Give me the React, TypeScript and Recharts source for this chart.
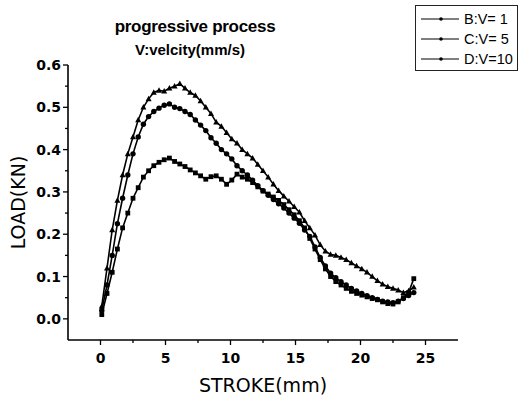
import React from 'react';
import { LineChart, Line, XAxis, YAxis, Label } from 'recharts';

// stroke positions (mm), shared by the three runs
const stroke = [
  0.1, 0.5, 0.9, 1.3, 1.7, 2.1, 2.5, 2.9, 3.3, 3.7, 4.1, 4.5, 4.9, 5.3, 5.7, 6.1,
  6.5, 6.9, 7.3, 7.7, 8.1, 8.5, 8.9, 9.3, 9.7, 10.1, 10.5, 10.9, 11.3, 11.7, 12.1,
  12.5, 12.9, 13.3, 13.7, 14.1, 14.5, 14.9, 15.3, 15.7, 16.1, 16.5, 16.9, 17.3,
  17.7, 18.1, 18.5, 18.9, 19.3, 19.7, 20.1, 20.5, 20.9, 21.3, 21.7, 22.1, 22.5,
  22.9, 23.3, 23.7, 24.1,
];

// load (kN), V = 1 mm/s
const loadB = [
  0.01, 0.06, 0.11, 0.165, 0.215, 0.25, 0.285, 0.31, 0.335, 0.35, 0.362, 0.37,
  0.376, 0.38, 0.372, 0.366, 0.36, 0.352, 0.345, 0.338, 0.33, 0.336, 0.338, 0.33,
  0.318, 0.328, 0.342, 0.335, 0.33, 0.322, 0.312, 0.302, 0.295, 0.288, 0.28, 0.27,
  0.258, 0.246, 0.232, 0.215, 0.19, 0.165, 0.14, 0.118, 0.1, 0.088, 0.08, 0.072,
  0.065, 0.06, 0.056, 0.052, 0.048, 0.045, 0.04, 0.036, 0.035, 0.04, 0.05, 0.062,
  0.095,
];

// load (kN), V = 5 mm/s
const loadC = [
  0.02, 0.08, 0.15, 0.225, 0.285, 0.34, 0.39, 0.43, 0.46, 0.478, 0.49, 0.498,
  0.505, 0.508, 0.5, 0.497, 0.49, 0.483, 0.47, 0.458, 0.445, 0.428, 0.415, 0.4,
  0.39, 0.378, 0.362, 0.35, 0.34, 0.328, 0.315, 0.303, 0.292, 0.282, 0.272, 0.262,
  0.25, 0.238, 0.226, 0.21, 0.195, 0.17, 0.145, 0.125, 0.108, 0.097, 0.088, 0.08,
  0.072, 0.066, 0.06, 0.055, 0.05, 0.046, 0.042, 0.04, 0.038, 0.042, 0.048, 0.055,
  0.062,
];

// load (kN), V = 10 mm/s
const loadD = [
  0.03, 0.12, 0.21, 0.28, 0.34, 0.39, 0.43, 0.47, 0.5, 0.52, 0.535, 0.54, 0.538,
  0.545, 0.55, 0.556, 0.545, 0.535, 0.528, 0.515, 0.5, 0.485, 0.465, 0.455, 0.44,
  0.425, 0.415, 0.4, 0.39, 0.38, 0.365, 0.35, 0.335, 0.318, 0.303, 0.29, 0.278,
  0.265, 0.252, 0.232, 0.215, 0.198, 0.175, 0.16, 0.152, 0.15, 0.145, 0.14, 0.132,
  0.125, 0.118, 0.11, 0.1, 0.09, 0.082, 0.076, 0.072, 0.068, 0.062, 0.066, 0.075,
];

const seriesNames = ['B:V= 1', 'C:V= 5', 'D:V=10'];
const xTicks = [0, 2.5, 5, 7.5, 10, 12.5, 15, 17.5, 20, 22.5, 25];
const yTicks = [0, 0.05, 0.1, 0.15, 0.2, 0.25, 0.3, 0.35, 0.4, 0.45, 0.5, 0.55, 0.6];

const data = stroke.map((s, i) => ({ s, b: loadB[i], c: loadC[i], d: loadD[i] }));

const tickFont = { fontFamily: '"DejaVu Sans", sans-serif', fontWeight: 'bold', fontSize: 14 };

const isMajor = (v: number, step: number) => Math.abs(v / step - Math.round(v / step)) < 1e-6;

const XTick = ({ x, y, payload }: any) => {
  const major = isMajor(payload.value, 5);
  return (
    <g>
      <line x1={x} x2={x} y1={y} y2={y + (major ? 5 : 3)} stroke="#000" strokeWidth={1.3} />
      {major && (
        <text x={x} y={y + 23} textAnchor="middle" fill="#000" style={tickFont}>
          {payload.value}
        </text>
      )}
    </g>
  );
};

const YTick = ({ x, y, payload }: any) => {
  const major = isMajor(payload.value, 0.1);
  return (
    <g>
      <line x1={x - (major ? 5 : 3)} x2={x} y1={y} y2={y} stroke="#000" strokeWidth={1.3} />
      {major && (
        <text x={x - 7} y={y + 5} textAnchor="end" fill="#000" style={tickFont}>
          {payload.value.toFixed(1)}
        </text>
      )}
    </g>
  );
};

const SquareDot = (p: any) => (
  <rect key={`b${p.index}`} x={p.cx - 2.4} y={p.cy - 2.4} width={4.8} height={4.8} fill="#000" />
);
const CircleDot = (p: any) => <circle key={`c${p.index}`} cx={p.cx} cy={p.cy} r={2.7} fill="#000" />;
const TriangleDot = (p: any) => (
  <polygon
    key={`d${p.index}`}
    points={`${p.cx},${p.cy - 3.2} ${p.cx - 3},${p.cy + 2.3} ${p.cx + 3},${p.cy + 2.3}`}
    fill="#000"
  />
);

const LegendBox = () => (
  <div
    style={{
      position: 'absolute',
      left: 415,
      top: 5,
      border: '1px solid #222',
      width: 103,
      height: 66,
      boxSizing: 'border-box',
      padding: '3px 0 0 5px',
      fontFamily: '"Liberation Sans", Arial, sans-serif',
      fontSize: 14.5,
      color: '#000',
      background: '#fff',
    }}
  >
    {seriesNames.map((n) => (
      <div key={n} style={{ display: 'flex', alignItems: 'center', height: 20 }}>
        <svg width={40} height={8} style={{ marginRight: 3 }}>
          <line x1={0} x2={38} y1={4} y2={4} stroke="#000" strokeWidth={1} />
          <circle cx={20} cy={4} r={1.8} fill="#000" />
        </svg>
        <span>{n}</span>
      </div>
    ))}
  </div>
);

export default function App() {
  return (
    <div style={{ position: 'absolute', left: 0, top: 0, width: 520, height: 400, background: '#fff' }}>
      <LineChart width={520} height={400} data={data} margin={{ top: 65, right: 62, bottom: 0, left: 0 }}>
        <XAxis
          dataKey="s"
          type="number"
          domain={[-2.5, 27.5]}
          ticks={xTicks}
          interval={0}
          height={60}
          tickSize={0}
          tickMargin={0}
          tickLine={false}
          tick={<XTick />}
          axisLine={{ stroke: '#000', strokeWidth: 1.6 }}
        >
          <Label
            value="STROKE(mm)"
            position="insideBottom"
            offset={8}
            style={{ fontFamily: '"DejaVu Sans", sans-serif', fontSize: 19, fill: '#000' }}
          />
        </XAxis>
        <YAxis
          type="number"
          domain={[-0.05, 0.6]}
          ticks={yTicks}
          interval={0}
          width={68}
          tickSize={0}
          tickMargin={0}
          tickLine={false}
          tick={<YTick />}
          axisLine={{ stroke: '#000', strokeWidth: 1.6 }}
        >
          <Label
            value="LOAD(KN)"
            angle={-90}
            position="insideLeft"
            offset={18}
            style={{ fontFamily: '"DejaVu Sans", sans-serif', fontSize: 19, fill: '#000', textAnchor: 'middle' }}
          />
        </YAxis>
        <Line dataKey="b" name={seriesNames[0]} type="linear" stroke="#000" strokeWidth={1.6} dot={SquareDot} isAnimationActive={false} />
        <Line dataKey="c" name={seriesNames[1]} type="linear" stroke="#000" strokeWidth={1.6} dot={CircleDot} isAnimationActive={false} />
        <Line dataKey="d" name={seriesNames[2]} type="linear" stroke="#000" strokeWidth={1.6} dot={TriangleDot} isAnimationActive={false} />
      </LineChart>
      <div
        style={{
          position: 'absolute',
          left: 0,
          width: 390,
          top: 17,
          textAlign: 'center',
          fontFamily: '"Liberation Sans", Arial, sans-serif',
          fontWeight: 'bold',
          fontSize: 17,
          letterSpacing: -0.3,
          color: '#000',
        }}
      >
        progressive process
      </div>
      <div
        style={{
          position: 'absolute',
          left: 0,
          width: 380,
          top: 41,
          textAlign: 'center',
          fontFamily: '"Liberation Sans", Arial, sans-serif',
          fontWeight: 'bold',
          fontSize: 15,
          color: '#000',
        }}
      >
        V:velcity(mm/s)
      </div>
      <LegendBox />
    </div>
  );
}
